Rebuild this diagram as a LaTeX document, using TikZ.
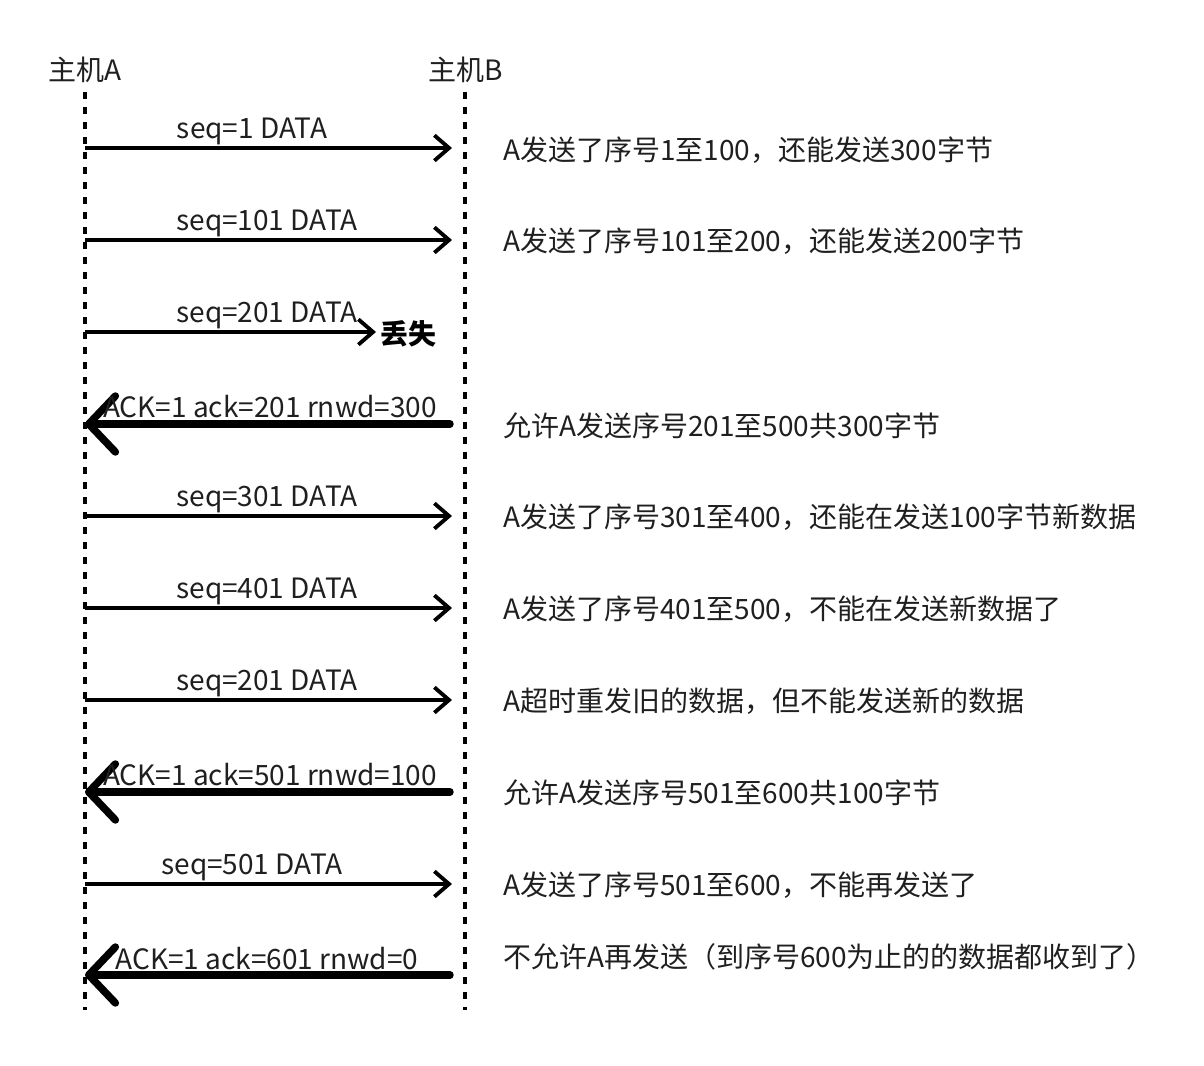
\documentclass[tikz,border=0pt]{standalone}
\usepackage{fontspec}
\setmainfont{Noto Sans CJK SC}
\usetikzlibrary{arrows.meta}
\begin{document}
\begin{tikzpicture}[x=0.75pt,y=-0.75pt,
  txt/.style={inner sep=0pt,font=\fontsize{21pt}{25pt}\selectfont,text=black!88},
  rtxt/.style={txt,anchor=west},
  life/.style={line width=2.8pt,dash pattern=on 5.25pt off 6pt},
  fwd/.style={line width=2.9pt,-{Straight Barb[length=11pt,width=19pt]}},
  back/.style={line width=5.6pt,line cap=round,-{Straight Barb[length=20pt,width=42pt,round]}},
  lost/.style={font=\fontsize{21pt}{25pt}\selectfont\bfseries,inner sep=0pt,anchor=west}]
\useasboundingbox (0,0) rectangle (1204,1066);
% hosts
\node[txt] (hA) at (85,70) {主机A};
\node[txt] (hB) at (466,70) {主机B};
\coordinate (At) at (85,92);
\coordinate (Ab) at (85,1010);
\coordinate (Bt) at (465,92);
\coordinate (Bb) at (465,1010);
\draw[life] (At) -- (Ab);
\draw[life] (Bt) -- (Bb);
% row coordinates
\foreach \i/\y in {1/148,2/240,3/332,4/424,5/516,6/608,7/700,8/792,9/884,10/975}{
  \coordinate (a\i) at (85,\y);
  \coordinate (b\i) at (452,\y);
}
\coordinate (c4) at (450,424);
\coordinate (c8) at (450,792);
\coordinate (c10) at (450,975);
\coordinate (x3) at (376,332);
% forward arrows
\draw[fwd] (a1) -- (b1);
\draw[fwd] (a2) -- (b2);
\draw[fwd] (a3) -- (x3);
\draw[fwd] (a5) -- (b5);
\draw[fwd] (a6) -- (b6);
\draw[fwd] (a7) -- (b7);
\draw[fwd] (a9) -- (b9);
% back arrows
\draw[back] (c4) -- (a4);
\draw[back] (c8) -- (a8);
\draw[back] (c10) -- (a10);
% arrow labels
\node[txt] (l1) at (252,131) {seq=1 DATA};
\node[txt] (l2) at (267,223) {seq=101 DATA};
\node[txt] (l3) at (267,315) {seq=201 DATA};
\node[lost] (lost) at (380,334) {丢失};
\node[txt] (l4) at (270,407) {ACK=1 ack=201 rnwd=300};
\node[txt] (l5) at (267,499) {seq=301 DATA};
\node[txt] (l6) at (267,591) {seq=401 DATA};
\node[txt] (l7) at (267,683) {seq=201 DATA};
\node[txt] (l8) at (270,775) {ACK=1 ack=501 rnwd=100};
\node[txt] (l9) at (252,867) {seq=501 DATA};
\node[txt] (l10) at (267,959) {ACK=1 ack=601 rnwd=0};
% right-side notes
\node[rtxt] (n1) at (503,150) {A发送了序号1至100，还能发送300字节};
\node[rtxt] (n2) at (503,241) {A发送了序号101至200，还能发送200字节};
\node[rtxt] (n3) at (503,426) {允许A发送序号201至500共300字节};
\node[rtxt] (n4) at (503,517) {A发送了序号301至400，还能在发送100字节新数据};
\node[rtxt] (n5) at (503,609) {A发送了序号401至500，不能在发送新数据了};
\node[rtxt] (n6) at (503,701) {A超时重发旧的数据，但不能发送新的数据};
\node[rtxt] (n7) at (503,793) {允许A发送序号501至600共100字节};
\node[rtxt] (n8) at (503,885) {A发送了序号501至600，不能再发送了};
\node[rtxt] (n9) at (503,957) {不允许A再发送（到序号600为止的的数据都收到了）};
\end{tikzpicture}
\end{document}
